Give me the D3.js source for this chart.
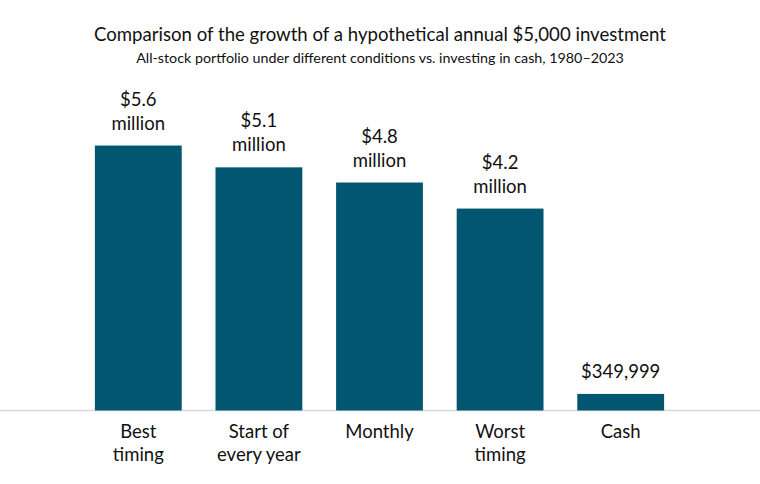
<!DOCTYPE html>
<html><head><meta charset="utf-8">
<script src="https://cdn.jsdelivr.net/npm/d3@7"></script>
<style>body{margin:0;background:#fff}svg{display:block}</style>
</head><body>
<svg id="c" width="760" height="484"></svg>
<script>
const categories = [["Best","timing"],["Start of","every year"],["Monthly"],["Worst","timing"],["Cash"]];
const values = [5.59, 5.13, 4.81, 4.26, 0.349999];
const valueLabels = [["$5.6","million"],["$5.1","million"],["$4.8","million"],["$4.2","million"],["$349,999"]];
const title = "Comparison of the growth of a hypothetical annual $5,000 investment";
const subtitle = "All-stock portfolio under different conditions vs. investing in cash, 1980–2023";

const svg = d3.select("#c");
const font = "Lato, 'Open Sans', sans-serif";
const baseY = 410.5;
const x = d3.scaleBand().domain(d3.range(values.length)).range([78, 681]).paddingInner(0.28).paddingOuter(0.14);
const y = d3.scaleLinear().domain([0, 1]).range([baseY, baseY - 47.4]);

svg.append("text").attr("x", 380).attr("y", 41).attr("text-anchor", "middle")
  .attr("font-family", font).attr("font-size", 18.6).attr("fill", "#111").text(title);
svg.append("text").attr("x", 380).attr("y", 63).attr("text-anchor", "middle")
  .attr("font-family", font).attr("font-size", 14.3).attr("fill", "#111").text(subtitle);

svg.append("line").attr("x1", 0).attr("x2", 760).attr("y1", baseY).attr("y2", baseY)
  .attr("stroke", "#d9d9d9").attr("stroke-width", 1.5);

svg.selectAll("rect.bar").data(values).join("rect").attr("class", "bar")
  .attr("x", (d, i) => x(i)).attr("width", x.bandwidth())
  .attr("y", d => y(d)).attr("height", d => baseY - y(d))
  .attr("fill", "#03566f");

const lh = 24;
svg.selectAll("g.vl").data(values).join("g").attr("class", "vl").each(function(d, i) {
  const lines = valueLabels[i];
  const g = d3.select(this);
  const cx = x(i) + x.bandwidth() / 2;
  lines.forEach((t, j) => {
    g.append("text").attr("x", cx).attr("y", y(d) - 16 - (lines.length - 1 - j) * lh)
      .attr("text-anchor", "middle").attr("font-family", font).attr("font-size", 18.5)
      .attr("fill", "#111").text(t);
  });
});

svg.selectAll("g.cl").data(categories).join("g").attr("class", "cl").each(function(lines, i) {
  const g = d3.select(this);
  const cx = x(i) + x.bandwidth() / 2;
  lines.forEach((t, j) => {
    g.append("text").attr("x", cx).attr("y", 438 + j * 22.5)
      .attr("text-anchor", "middle").attr("font-family", font).attr("font-size", 18.5)
      .attr("fill", "#111").text(t);
  });
});
</script>
</body></html>
